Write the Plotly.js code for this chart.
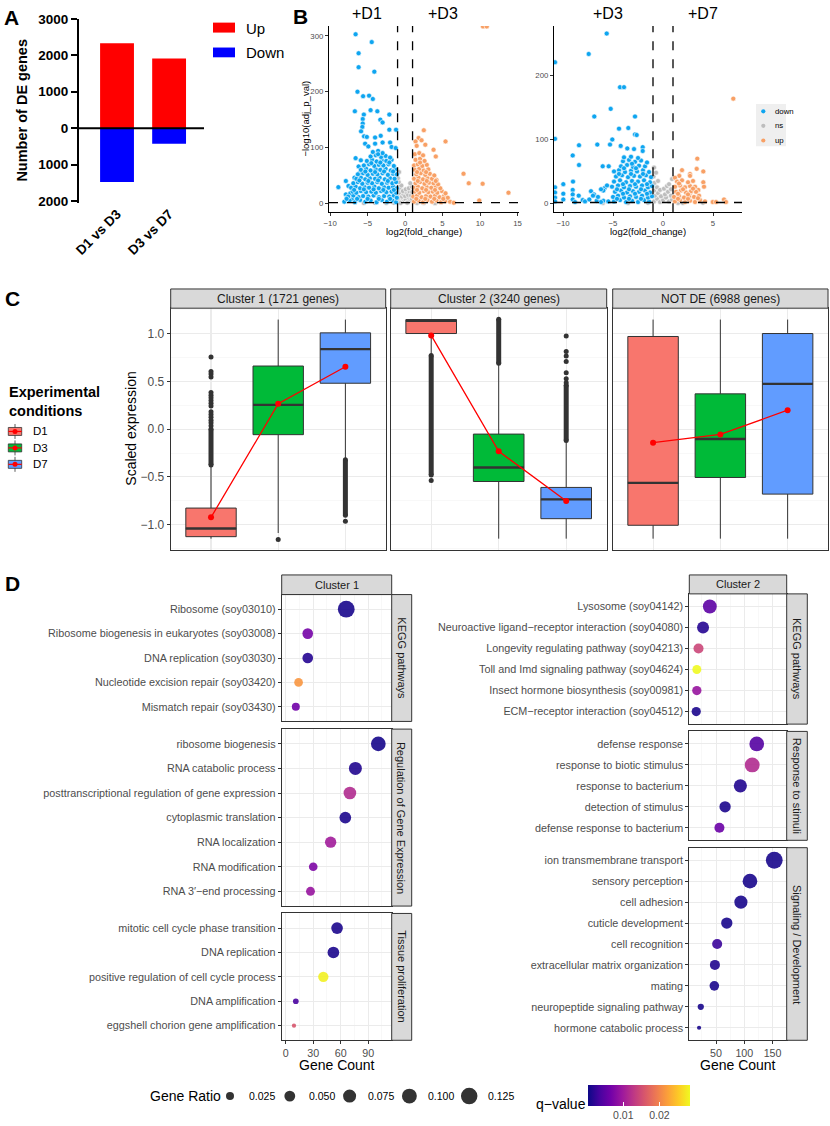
<!DOCTYPE html>
<html><head><meta charset="utf-8">
<script src="https://cdn.plot.ly/plotly-3.0.1.min.js"></script>
<style>html,body{margin:0;padding:0;background:#fff;}#chart{width:830px;height:1126px;}</style>
</head><body><div id="chart"></div>
<script>
// ================= DATA =================
// Panel A
const deComparisons = ['D1 vs D3', 'D3 vs D7'];
const deUp = [2335, 1910];
const deDown = [1480, 430];
const deTicks = [-2000, -1000, 0, 1000, 2000, 3000];

// Panel B  (log2 fold change, -log10 adj p)
const fcThreshold = 1;
const pThreshold = 0.05;
const volLeftDown = [
[-6.6,303],[-4.45,289],[-6.2,269],[-6.2,244],[-4.1,236],[-6.35,200],[-5.6,192],[-4.8,193],[-4.3,187],[-6.7,165],[-4.6,167],[-3.7,165],[-5.5,159],[-2.1,159],[-3.3,150],[-3.0,145],[-5.65,151],[-5.65,143],[-5.7,137],[-5.87,129],[-5.47,120],[-5.1,119],[-4.0,118],[-3.25,121],[-2.1,132],[-1.2,132],[-5.33,107],[-4.0,107],[-3.0,109],[-2.0,109],[-1.8,101],[-1.25,99],[-4.9,102],[-6.6,81],[-5.9,77],[-6.2,66],[-6.0,55],[-6.75,46],[-7.9,40],[-8.9,29],[-7.55,31],[-7.9,16],[-7.3,18],[-7.8,9],[-7.1,7],
[-8.1,3],[-7.4,5],[-6.7,2],[-6.0,6],[-5.3,3],[-4.6,5],[-3.8,2],[-3.1,6],[-2.4,3],[-1.7,5],[-1.2,2],
[-7.6,12],[-6.9,14],[-6.2,11],[-5.6,13],[-4.9,12],[-4.2,14],[-3.5,11],[-2.8,13],[-2.1,12],[-1.5,14],[-1.1,10],
[-7.0,21],[-6.5,19],[-5.9,22],[-5.2,20],[-4.5,21],[-3.9,19],[-3.2,22],[-2.5,20],[-1.8,21],[-1.2,19],
[-7.2,28],[-6.6,30],[-6.0,27],[-5.4,29],[-4.8,28],[-4.1,30],[-3.5,27],[-2.8,29],[-2.2,28],[-1.6,30],[-1.1,27],
[-6.9,36],[-6.3,38],[-5.7,35],[-5.0,37],[-4.4,36],[-3.7,38],[-3.1,35],[-2.4,37],[-1.7,36],[-1.2,38],
[-6.5,44],[-5.9,46],[-5.3,43],[-4.7,45],[-4.0,44],[-3.4,46],[-2.7,43],[-2.0,45],[-1.4,44],
[-6.3,52],[-5.6,54],[-5.0,51],[-4.3,53],[-3.7,52],[-3.0,54],[-2.3,51],[-1.6,53],[-1.1,52],
[-5.9,60],[-5.2,62],[-4.6,59],[-3.9,61],[-3.3,60],[-2.6,62],[-1.9,59],[-1.3,61],
[-5.5,68],[-4.8,70],[-4.1,67],[-3.5,69],[-2.9,68],[-2.2,70],[-1.5,67],
[-5.1,76],[-4.4,78],[-3.8,75],[-3.1,77],[-2.5,76],[-1.8,78],
[-4.6,84],[-3.9,86],[-3.2,83],[-2.6,85],[-2.0,82],
[-4.3,92],[-3.6,94],[-3.0,90],
[-7.8,8],[-6.4,8],[-5.0,8],[-3.5,8],[-2.0,8],[-6.8,24],[-5.5,25],[-4.2,25],[-2.9,24],[-1.5,24],[-6.1,41],[-4.9,40],[-3.6,41],[-2.3,40],[-5.3,57],[-4.0,56],[-2.8,57],[-1.6,57],[-4.5,72],[-3.3,73],[-2.1,73],[-3.6,88]
];
const volLeftNs = [
[-0.9,2],[-0.7,6],[-0.5,3],[-0.3,9],[-0.1,4],[0.1,7],[0.3,2],[0.5,11],[0.7,5],[0.9,8],[-0.8,14],[-0.6,18],[-0.4,12],[-0.2,16],[0.0,13],[0.2,19],[0.4,15],[0.6,21],[0.8,14],[-0.9,24],[-0.7,28],[-0.3,22],[0.1,25],[0.5,27],[0.9,30],[-0.5,32],[-0.85,38],[0.7,36],[-2.5,0.5],[-4.0,0.8],[-5.5,0.4],[2.5,0.6],[4.0,0.3],[-1.5,0.9],[1.6,0.7],[-0.95,45],[0.95,20],[-0.6,0.5],[0.3,0.8],[-0.8,56]
];
const volLeftUp = [
[2.5,131],[1.8,117],[1.4,111],[2.2,113],[5.4,111],[1.55,103],[2.7,105],[3.8,96],[4.1,84],[7.8,53],[8.5,36],[10.35,35],[13.8,19],[9.9,5],[10.4,317],[10.9,317],
[1.2,3],[1.8,5],[2.4,2],[3.0,6],[3.6,3],[4.2,5],[4.8,2],[5.4,4],[6.0,3],[6.5,1],
[1.1,12],[1.6,14],[2.2,11],[2.8,13],[3.4,12],[4.0,14],[4.6,11],[5.2,13],[5.7,10],
[1.3,21],[1.9,19],[2.5,22],[3.1,20],[3.7,21],[4.3,19],[4.9,22],[5.4,18],
[1.2,28],[1.7,30],[2.3,27],[2.9,29],[3.5,28],[4.1,30],[4.7,27],
[1.4,36],[2.0,38],[2.6,35],[3.2,37],[3.8,36],[4.4,34],
[1.2,44],[1.8,46],[2.4,43],[3.0,45],[3.6,44],[4.2,42],
[1.5,52],[2.1,54],[2.7,51],[3.3,53],[3.9,50],
[1.3,60],[1.9,62],[2.5,59],[3.1,61],
[1.2,68],[1.7,70],[2.3,67],[2.9,69],
[1.4,78],[2.0,80],[2.6,76],
[1.3,88],[1.9,90],[2.4,86],
[1.5,8],[2.7,8],[3.9,8],[5.1,8],[1.6,24],[2.8,24],[4.0,24],[1.7,40],[2.9,40],[4.1,40],[1.6,56],[2.8,56],[2.0,73]
];
const volRightDown = [
[-5.63,266],[-7.43,234],[-4.3,182],[-3.9,182],[-10.8,221],[-5.23,148],[-6.87,136],[-2.8,136],[-4.4,117],[-3.47,118],[-2.8,108],[-2.63,107],[-10.8,101],[-5.07,100],[-6.57,92],[-8.4,91],[-5.3,92],[-4.23,90],[-3.57,86],[-2.9,85],[-2.03,88],[-2.03,82],[-9.03,75],[-8.4,60],[-6.03,58],[-5.43,58],[-9.0,34],[-9.97,30],[-8.43,12],[-9.03,21],[-9.97,15],[-9.03,14],[-7.2,19],[-6.9,14],[-5.83,24],[-5.97,20],[-10.8,25],[-10.8,17],[-10.8,9],[-9.97,6],[-9.03,6],[-8.03,5],[-7.8,3],[-7.37,6],[-6.63,4],[-5.97,4],[-5.47,3],[-4.8,4],[-10.8,3],[-8.8,2],[-6.2,2],
[-4.9,3],[-4.3,5],[-3.7,2],[-3.1,4],[-2.5,2],[-1.9,5],[-1.4,3],
[-5.0,10],[-4.5,12],[-3.9,9],[-3.3,11],[-2.7,10],[-2.1,12],[-1.5,9],[-1.1,11],
[-4.8,18],[-4.2,20],[-3.6,17],[-3.0,19],[-2.4,18],[-1.8,20],[-1.3,17],
[-5.1,26],[-4.5,28],[-3.9,25],[-3.3,27],[-2.7,26],[-2.1,28],[-1.5,25],[-1.1,27],
[-4.9,34],[-4.3,36],[-3.7,33],[-3.1,35],[-2.5,34],[-1.9,36],[-1.3,33],
[-4.7,42],[-4.1,44],[-3.5,41],[-2.9,43],[-2.3,42],[-1.7,44],[-1.2,41],
[-4.9,50],[-4.4,52],[-3.8,49],[-3.2,51],[-2.6,50],[-2.0,52],[-1.4,49],
[-4.2,58],[-3.6,60],[-3.0,57],[-2.4,59],[-1.8,58],
[-4.0,66],[-3.4,68],[-2.8,65],[-2.2,67],[-1.6,64],
[-3.9,72],[-3.2,73],[-2.5,71],
[-4.6,7],[-3.4,7],[-2.2,7],[-4.0,15],[-2.8,15],[-1.6,15],[-4.6,22],[-3.4,22],[-2.2,22],[-4.0,30],[-2.8,30],[-1.6,30],[-4.4,46],[-3.2,46],[-2.0,46],[-3.9,55],[-2.7,55],[-3.1,62],[-5.6,28],[-6.2,22],[-6.5,10],[-7.0,12]
];
const volRightNs = [
[-0.9,3],[-0.6,7],[-0.3,2],[0.0,5],[0.3,9],[0.6,3],[0.9,6],[-0.8,12],[-0.5,16],[-0.2,11],[0.2,14],[0.5,18],[0.8,12],[-0.9,20],[-0.6,25],[-0.3,21],[0.1,23],[0.4,27],[0.8,22],[-0.85,32],[-0.5,35],[0.6,30],[-0.95,42],[-0.9,56],[-0.7,48],[0.9,38],[-3.5,0.5],[-6.0,0.6],[2.0,0.4],[4.0,0.8],[-1.5,0.7],[1.5,0.6]
];
const volRightUp = [
[7.03,164],[3.43,70],[3.37,54],[4.03,50],[1.9,52],[2.7,46],[2.7,43],[1.63,43],[1.2,40],[4.03,33],[4.1,26],[3.53,21],[2.7,16],[4.97,2],[5.3,2],[6.1,6],[6.3,2],
[1.2,3],[1.7,5],[2.2,2],[2.7,4],[3.2,2],[3.7,5],[4.2,3],
[1.1,10],[1.6,12],[2.1,9],[2.6,11],[3.1,10],[3.6,12],
[1.3,18],[1.8,20],[2.3,17],[2.8,19],[3.3,18],
[1.2,26],[1.7,28],[2.2,25],[2.7,27],[3.2,26],
[1.4,34],[1.9,36],[2.5,33],[3.0,35],
[1.5,7],[2.5,7],[3.5,8],[1.5,15],[2.5,14],[2.0,22],[3.0,23],[1.6,31]
];

// Panel C  (per cluster: D1, D3, D7)
const clusterNames = ['Cluster 1 (1721 genes)', 'Cluster 2 (3240 genes)', 'NOT DE (6988 genes)'];
const conditions = ['D1', 'D3', 'D7'];
const boxLow    = [[-1.146, -1.087, -0.319], [0.78, -1.146, -1.146], [-1.146, -1.146, -1.146]];
const boxQ1     = [[-1.125, -0.058, 0.48], [1.0, -0.548, -0.937], [-1.006, -0.506, -0.68]];
const boxMedian = [[-1.04, 0.254, 0.837], [1.133, -0.402, -0.735], [-0.562, -0.104, 0.473]];
const boxQ3     = [[-0.826, 0.66, 1.007], [1.146, -0.052, -0.61], [0.969, 0.369, 1.0]];
const boxHigh   = [[-0.377, 1.146, 1.146], [1.146, 0.684, -0.125], [1.146, 1.146, 1.146]];
const boxMean   = [[-0.923, 0.265, 0.653], [0.98, -0.232, -0.753], [-0.142, -0.055, 0.198]];
const outlierRuns = [
  [[[0.0, -0.375]], [], [[-0.32, -0.90]]],
  [[[0.77, -0.48]], [[0.69, 1.15]], [[-0.12, 0.46]]],
  [[], [], []]
];
const outlierPoints = [
  [[0.754,0.604,0.577,0.546,0.382,0.354,0.327,0.299,0.271,0.243,0.181,0.153,0.125,0.094,0.066,0.035], [-1.156], [-0.965]],
  [[-0.537], [], [0.486,0.528,0.59,0.708,0.764,0.813,0.973]],
  [[], [], []]
];

// Panel D
const c1KeggTerms = ['Ribosome (soy03010)','Ribosome biogenesis in eukaryotes (soy03008)','DNA replication (soy03030)','Nucleotide excision repair (soy03420)','Mismatch repair (soy03430)'];
const c1KeggCount = [66, 24, 24, 14, 11];
const c1KeggRatio = [0.13, 0.048, 0.048, 0.030, 0.025];
const c1KeggQ = [0.0009, 0.0068, 0.0017, 0.0215, 0.0065];

const c1RegTerms = ['ribosome biogenesis','RNA catabolic process','posttranscriptional regulation of gene expression','cytoplasmic translation','RNA localization','RNA modification','RNA 3\u2032\u2212end processing'];
const c1RegCount = [101, 76, 70, 65, 49, 30, 27];
const c1RegRatio = [0.097, 0.074, 0.070, 0.059, 0.055, 0.030, 0.032];
const c1RegQ = [0.0008, 0.0014, 0.0116, 0.0011, 0.0102, 0.0074, 0.0093];

const c1TisTerms = ['mitotic cell cycle phase transition','DNA replication','positive regulation of cell cycle process','DNA amplification','eggshell chorion gene amplification'];
const c1TisCount = [56, 52, 41, 11, 9];
const c1TisRatio = [0.059, 0.059, 0.045, 0.011, 0.0053];
const c1TisQ = [0.0011, 0.0011, 0.028, 0.0037, 0.0158];

const c2KeggTerms = ['Lysosome (soy04142)','Neuroactive ligand\u2212receptor interaction (soy04080)','Longevity regulating pathway (soy04213)','Toll and Imd signaling pathway (soy04624)','Insect hormone biosynthesis (soy00981)','ECM\u2212receptor interaction (soy04512)'];
const c2KeggCount = [39, 27, 19, 16, 16, 15];
const c2KeggRatio = [0.086, 0.062, 0.042, 0.032, 0.035, 0.035];
const c2KeggQ = [0.0051, 0.0017, 0.0144, 0.0285, 0.0093, 0.0011];

const c2RespTerms = ['defense response','response to biotic stimulus','response to bacterium','detection of stimulus','defense response to bacterium'];
const c2RespCount = [122, 114, 93, 66, 56];
const c2RespRatio = [0.097, 0.100, 0.077, 0.055, 0.042];
const c2RespQ = [0.0045, 0.0116, 0.0014, 0.0011, 0.0060];

const c2SigTerms = ['ion transmembrane transport','sensory perception','cell adhesion','cuticle development','cell recognition','extracellular matrix organization','mating','neuropeptide signaling pathway','hormone catabolic process'];
const c2SigCount = [153, 110, 94, 69, 52, 48, 47, 23, 20];
const c2SigRatio = [0.13, 0.097, 0.077, 0.055, 0.042, 0.042, 0.038, 0.014, 0.005];
const c2SigQ = [0.0009, 0.0009, 0.0009, 0.0009, 0.0028, 0.0014, 0.0011, 0.0009, 0.0009];

const ratioLegend = [0.025, 0.050, 0.075, 0.100, 0.125];
const qRange = [0.0003, 0.0285];
const qTicks = [0.01, 0.02];

// ================= LAYOUT HELPERS =================
const W = 830, H = 1126;
const FONT = 'Liberation Sans, Arial, Helvetica, sans-serif';
const fx = p => p / W;
const fy = p => 1 - p / H;
const hd = (a, b) => [a / W, b / W];
const vd = (top, bot) => [1 - bot / H, 1 - top / H];

const layout = {
  width: W, height: H, margin: {l: 0, r: 0, t: 0, b: 0},
  paper_bgcolor: 'white', plot_bgcolor: 'white', showlegend: false,
  font: {family: FONT, color: '#000'}, barmode: 'relative',
  shapes: [], annotations: []
};
const traces = [];

function ann(text, x, y, size, o) {
  o = o || {};
  layout.annotations.push(Object.assign({
    text: text, x: fx(x), y: fy(y), xref: 'paper', yref: 'paper', showarrow: false,
    xanchor: 'center', yanchor: 'middle',
    font: {family: FONT, size: size, color: o.color || '#000', weight: o.weight || 'normal'}
  }, o.extra || {}));
}
function rect(x0, y0, x1, y1, fill, lineColor, lw) {
  layout.shapes.push({type: 'rect', xref: 'paper', yref: 'paper', x0: fx(x0), x1: fx(x1), y0: fy(y1), y1: fy(y0),
    fillcolor: fill, line: {color: lineColor || fill, width: lw === undefined ? 0 : lw}, layer: 'above'});
}
function seg(x0, y0, x1, y1, color, lw) {
  layout.shapes.push({type: 'line', xref: 'paper', yref: 'paper', x0: fx(x0), x1: fx(x1), y0: fy(y0), y1: fy(y1),
    line: {color: color, width: lw}, layer: 'above'});
}
function dot(cx, cy, d, fill) {
  layout.shapes.push({type: 'circle', xref: 'paper', yref: 'paper', xsizemode: 'pixel', ysizemode: 'pixel',
    xanchor: fx(cx), yanchor: fy(cy), x0: -d / 2, x1: d / 2, y0: -d / 2, y1: d / 2,
    fillcolor: fill, line: {width: 0}, layer: 'above'});
}
const splitXY = pairs => ({x: pairs.map(p => p[0]), y: pairs.map(p => p[1])});

// ================= PANEL A =================
layout.xaxis = {domain: hd(79, 204), anchor: 'y', type: 'category', range: [-0.73, 1.67], tickangle: -45,
  showline: false, ticks: '', showgrid: false, zeroline: false,
  tickfont: {family: FONT, size: 13.5, color: '#000', weight: 'bold'}};
layout.yaxis = {domain: vd(19, 203.5), anchor: 'x', range: [-2050, 3000], tickvals: deTicks,
  ticktext: deTicks.map(v => String(Math.abs(v))), showline: true, linecolor: '#000', linewidth: 2,
  ticks: 'outside', ticklen: 6, tickwidth: 2, tickcolor: '#000', showgrid: false, zeroline: false,
  tickfont: {family: FONT, size: 13.5, color: '#000', weight: 'bold'}};
traces.push({type: 'bar', x: deComparisons, y: deUp, width: 0.65, marker: {color: '#FF0000', line: {width: 0}}, xaxis: 'x', yaxis: 'y', hoverinfo: 'skip'});
traces.push({type: 'bar', x: deComparisons, y: deDown.map(v => -v), width: 0.65, marker: {color: '#0000FF', line: {width: 0}}, xaxis: 'x', yaxis: 'y', hoverinfo: 'skip'});
layout.shapes.push({type: 'line', xref: 'x domain', x0: 0, x1: 1, yref: 'y', y0: 0, y1: 0, line: {color: '#000', width: 2}, layer: 'above'});
ann('<b>Number of DE genes</b>', 22, 111, 14.5, {extra: {textangle: -90}});
ann('<b>A</b>', 2, 4, 21, {extra: {xanchor: 'left', yanchor: 'top'}});
rect(213, 22.7, 235, 32.7, '#FF0000');
rect(213, 47.7, 235, 57.5, '#0000FF');
ann('Up', 244, 28.3, 15, {extra: {xanchor: 'left'}});
ann('Down', 244, 52.7, 15, {extra: {xanchor: 'left'}});

// ================= PANEL B =================
const volColors = {down: '#0EA5F0', ns: '#BDBDBD', up: '#F8A065'};
function volAxes(n, xdom, xr, yr) {
  layout['xaxis' + n] = {domain: xdom, anchor: 'y' + n, range: xr, dtick: 5, tick0: 0, showline: true, linecolor: '#000', linewidth: 1.1,
    ticks: 'outside', ticklen: 3, tickcolor: '#333', tickfont: {family: FONT, size: 7.8, color: '#4D4D4D'}, showgrid: false, zeroline: false};
  layout['yaxis' + n] = {domain: vd(26, 213), anchor: 'x' + n, range: yr, dtick: 100, tick0: 0, showline: true, linecolor: '#000', linewidth: 1.1,
    ticks: 'outside', ticklen: 3, tickcolor: '#333', tickfont: {family: FONT, size: 7.8, color: '#4D4D4D'}, showgrid: false, zeroline: false};
  const dash = {color: '#000', width: 1.3, dash: 'dash'};
  [-fcThreshold, fcThreshold].forEach(v => layout.shapes.push({type: 'line', xref: 'x' + n, x0: v, x1: v, yref: 'y' + n + ' domain', y0: 0, y1: 1, line: dash, layer: 'above'}));
  const pl = -Math.log10(pThreshold);
  layout.shapes.push({type: 'line', xref: 'x' + n + ' domain', x0: 0, x1: 1, yref: 'y' + n, y0: pl, y1: pl, line: dash, layer: 'above'});
}
function volPoints(n, pairs, color) {
  const d = splitXY(pairs);
  traces.push({type: 'scatter', mode: 'markers', x: d.x, y: d.y, xaxis: 'x' + n, yaxis: 'y' + n, hoverinfo: 'skip',
    marker: {size: 5, color: color, line: {color: 'white', width: 0.6}}});
}
volAxes(2, hd(329, 518.6), [-10.15, 15.15], [-16, 318]);
volAxes(3, hd(554, 742), [-10.9, 7.9], [-14, 278]);
volPoints(2, volLeftNs, volColors.ns); volPoints(2, volLeftDown, volColors.down); volPoints(2, volLeftUp, volColors.up);
volPoints(3, volRightNs, volColors.ns); volPoints(3, volRightDown, volColors.down); volPoints(3, volRightUp, volColors.up);
ann('<b>B</b>', 291, 3, 21, {extra: {xanchor: 'left', yanchor: 'top'}});
ann('+D1', 366.7, 13.5, 16); ann('+D3', 443.3, 13.5, 16);
ann('+D3', 607.7, 13.5, 16); ann('+D7', 703, 13.5, 16);
ann('\u2212log10(adj_p_val)', 306, 119, 9.5, {extra: {textangle: -90}});
ann('log2(fold_change)', 423.8, 232, 9.5);
ann('log2(fold_change)', 648, 232, 9.5);
rect(756, 104.3, 786, 146.7, '#EFEFEF');
[['down', volColors.down, 111.7], ['ns', volColors.ns, 126.3], ['up', volColors.up, 141]].forEach(it => {
  dot(763.3, it[2], 4.2, it[1]);
  ann(it[0], 773, it[2], 7.8, {extra: {xanchor: 'left'}});
});

// ================= PANEL C =================
const boxColors = ['#F8766D', '#00BA38', '#619CFF'];
const boxWidth = 0.75;
const cDomains = [hd(170.7, 385.7), hd(390.7, 606.7), hd(612.7, 828)];
const cTicks = [-1, -0.5, 0, 0.5, 1];
cDomains.forEach((dom, p) => {
  const n = 4 + p;
  layout['xaxis' + n] = {domain: dom, anchor: 'y' + n, range: [-0.6, 2.6], tickvals: [0, 1, 2], showticklabels: false, ticks: '',
    showgrid: true, gridcolor: '#EBEBEB', gridwidth: 1.1, zeroline: false, showline: true, mirror: true, linecolor: '#333', linewidth: 1};
  layout['yaxis' + n] = {domain: vd(309.3, 552), anchor: 'x' + n, range: [-1.265, 1.265], tickvals: cTicks,
    ticktext: cTicks.map(v => (v < 0 ? '\u2212' : '') + Math.abs(v).toFixed(1)),
    showticklabels: p === 0, ticks: p === 0 ? 'outside' : '', ticklen: 3, tickcolor: '#333',
    tickfont: {family: FONT, size: 12, color: '#4D4D4D'}, showgrid: true, gridcolor: '#EBEBEB', gridwidth: 1.1,
    minor: {tickvals: [-1.25, -0.75, -0.25, 0.25, 0.75, 1.25], showgrid: true, gridcolor: '#F3F3F3', gridwidth: 0.6, ticks: ''},
    zeroline: false, showline: true, mirror: true, linecolor: '#333', linewidth: 1};
  const xa = 'x' + n, ya = 'y' + n;
  for (let i = 0; i < 3; i++) {
    traces.push({type: 'box', x: [i], q1: [boxQ1[p][i]], median: [boxMedian[p][i]], q3: [boxQ3[p][i]],
      lowerfence: [boxLow[p][i]], upperfence: [boxHigh[p][i]], width: boxWidth, whiskerwidth: 0, boxpoints: false,
      fillcolor: boxColors[i], line: {color: '#333333', width: 1}, xaxis: xa, yaxis: ya, hoverinfo: 'skip'});
    outlierRuns[p][i].forEach(r => {
      traces.push({type: 'scatter', mode: 'lines+markers', x: [i, i], y: r, xaxis: xa, yaxis: ya, hoverinfo: 'skip',
        line: {color: '#333333', width: 5}, marker: {size: 5, color: '#333333'}});
    });
    if (outlierPoints[p][i].length) {
      traces.push({type: 'scatter', mode: 'markers', x: outlierPoints[p][i].map(() => i), y: outlierPoints[p][i], xaxis: xa, yaxis: ya,
        hoverinfo: 'skip', marker: {size: 5, color: '#333333'}});
    }
    traces.push({type: 'scatter', mode: 'lines', x: [i - boxWidth / 2, i + boxWidth / 2], y: [boxMedian[p][i], boxMedian[p][i]],
      xaxis: xa, yaxis: ya, hoverinfo: 'skip', line: {color: '#333333', width: 2.4}});
  }
  traces.push({type: 'scatter', mode: 'lines+markers', x: [0, 1, 2], y: boxMean[p], xaxis: xa, yaxis: ya, hoverinfo: 'skip',
    line: {color: '#FF0000', width: 1.3}, marker: {size: 6, color: '#FF0000'}});
  const x0 = dom[0] * W, x1 = dom[1] * W;
  rect(x0, 290, x1, 309.3, '#D9D9D9', '#333333', 1);
  ann(clusterNames[p], (x0 + x1) / 2, 299.8, 12, {color: '#1A1A1A'});
});
ann('<b>C</b>', 3, 286, 21, {extra: {xanchor: 'left', yanchor: 'top'}});
ann('Scaled expression', 131.5, 430.7, 14, {extra: {textangle: -90}});
ann('<b>Experimental<br>conditions</b>', 7, 403, 14.5, {extra: {xanchor: 'left', align: 'left'}});
[433, 449.5, 466].forEach((cy, i) => {
  seg(15, cy - 7.5, 15, cy + 7.5, '#333333', 0.8);
  rect(8.3, cy - 4, 21.7, cy + 4, boxColors[i], '#333333', 0.8);
  seg(8.3, cy, 21.7, cy, '#FF0000', 1.2);
  dot(15, cy, 5, '#FF0000');
  ann(conditions[i], 31, cy, 11.5, {extra: {xanchor: 'left'}});
});

// ================= PANEL D =================
const plasma = [[0, '#0d0887'], [0.111, '#46039f'], [0.222, '#7201a8'], [0.333, '#9c179e'], [0.444, '#bd3786'],
  [0.556, '#d8576b'], [0.667, '#ed7953'], [0.778, '#fb9f3a'], [0.889, '#fdca26'], [1, '#f0f921']];
const sizeFor = r => 8 + 43.5 * (Math.sqrt(r) - Math.sqrt(0.025));
layout.coloraxis = {colorscale: plasma, cmin: qRange[0], cmax: qRange[1],
  colorbar: {orientation: 'h', x: fx(639.2), xanchor: 'center', y: fy(1089.3), yanchor: 'top', len: 101.7, lenmode: 'pixels',
    thickness: 20.7, thicknessmode: 'pixels', tickvals: qTicks, ticktext: qTicks.map(v => v.toFixed(2)),
    ticks: 'inside', ticklen: 4, tickcolor: 'white', tickwidth: 1, outlinewidth: 0, xpad: 0, ypad: 0,
    tickfont: {family: FONT, size: 10.5, color: '#4D4D4D'}, title: {text: ''}}};

const dPanels = [
  {n: 7,  terms: c1KeggTerms, count: c1KeggCount, ratio: c1KeggRatio, q: c1KeggQ, y: [596.7, 724], strip: 'KEGG pathways', col: 0, bottom: false},
  {n: 8,  terms: c1RegTerms,  count: c1RegCount,  ratio: c1RegRatio,  q: c1RegQ,  y: [731.7, 909.3], strip: 'Regulation of Gene Expression', col: 0, bottom: false},
  {n: 9,  terms: c1TisTerms,  count: c1TisCount,  ratio: c1TisRatio,  q: c1TisQ,  y: [916.7, 1044], strip: 'Tissue proliferation', col: 0, bottom: true},
  {n: 10, terms: c2KeggTerms, count: c2KeggCount, ratio: c2KeggRatio, q: c2KeggQ, y: [596, 726.7], strip: 'KEGG pathways', col: 1, bottom: false},
  {n: 11, terms: c2RespTerms, count: c2RespCount, ratio: c2RespRatio, q: c2RespQ, y: [734, 843.3], strip: 'Response to stimuli', col: 1, bottom: false},
  {n: 12, terms: c2SigTerms,  count: c2SigCount,  ratio: c2SigRatio,  q: c2SigQ,  y: [850.7, 1044], strip: 'Signaling / Development', col: 1, bottom: true}
];
const dCols = [
  {x: [281.7, 391.7], range: [-4.4, 115.6], dtick: 30, minor: 15, stripX: 411.7, title: 'Cluster 1'},
  {x: [689.3, 786.7], range: [2.7, 175], dtick: 50, minor: 25, stripX: 807.3, title: 'Cluster 2'}
];
dPanels.forEach(P => {
  const C = dCols[P.col];
  const nT = P.terms.length;
  layout['xaxis' + P.n] = {domain: hd(C.x[0], C.x[1]), anchor: 'y' + P.n, range: C.range, dtick: C.dtick, tick0: 0,
    showticklabels: P.bottom, ticks: P.bottom ? 'outside' : '', ticklen: 3, tickcolor: '#333',
    tickfont: {family: FONT, size: 10.7, color: '#4D4D4D'}, showgrid: true, gridcolor: '#EBEBEB', gridwidth: 1,
    minor: {dtick: C.minor, tick0: 0, showgrid: true, gridcolor: '#F3F3F3', gridwidth: 0.6, ticks: ''},
    zeroline: false, showline: true, mirror: true, linecolor: '#333', linewidth: 1};
  layout['yaxis' + P.n] = {domain: vd(P.y[0], P.y[1]), anchor: 'x' + P.n, type: 'category', categoryorder: 'array',
    categoryarray: P.terms, range: [nT - 1 + 0.6, -0.6], ticks: 'outside', ticklen: 3, tickcolor: '#333',
    tickfont: {family: FONT, size: 10.8, color: '#4D4D4D'}, showgrid: true, gridcolor: '#EBEBEB', gridwidth: 1,
    zeroline: false, showline: true, mirror: true, linecolor: '#333', linewidth: 1};
  traces.push({type: 'scatter', mode: 'markers', x: P.count, y: P.terms, xaxis: 'x' + P.n, yaxis: 'y' + P.n, hoverinfo: 'skip',
    marker: {size: P.ratio.map(sizeFor), color: P.q, coloraxis: 'coloraxis', opacity: 0.9, line: {width: 0}}});
  rect(C.x[1], P.y[0], C.stripX, P.y[1], '#D9D9D9', '#333333', 1);
  ann(P.strip, (C.x[1] + C.stripX) / 2, (P.y[0] + P.y[1]) / 2, 11, {color: '#1A1A1A', extra: {textangle: 90}});
});
dCols.forEach((C, i) => {
  const top = i === 0 ? 596.7 : 596;
  rect(C.x[0], 577, C.x[1], top, '#D9D9D9', '#333333', 1);
  ann(C.title, (C.x[0] + C.x[1]) / 2, (577 + top) / 2, 11, {color: '#1A1A1A'});
  ann('Gene Count', (C.x[0] + C.x[1]) / 2, 1069, 14);
});
ann('<b>D</b>', 3, 572, 21, {extra: {xanchor: 'left', yanchor: 'top'}});
ann('Gene Ratio', 148, 1100, 14, {extra: {xanchor: 'left'}});
ratioLegend.forEach((r, i) => {
  const cx = 230 + 59.8 * i;
  dot(cx, 1100, sizeFor(r), '#333333');
  ann(r.toFixed(3), cx + 16.7, 1100, 10.5, {extra: {xanchor: 'left'}});
});
ann('q\u2212value', 561, 1108, 14);
// dummy-free colorbar is attached through coloraxis of the dot traces

Plotly.newPlot('chart', traces, layout, {displayModeBar: false, staticPlot: true});
</script>
</body></html>
